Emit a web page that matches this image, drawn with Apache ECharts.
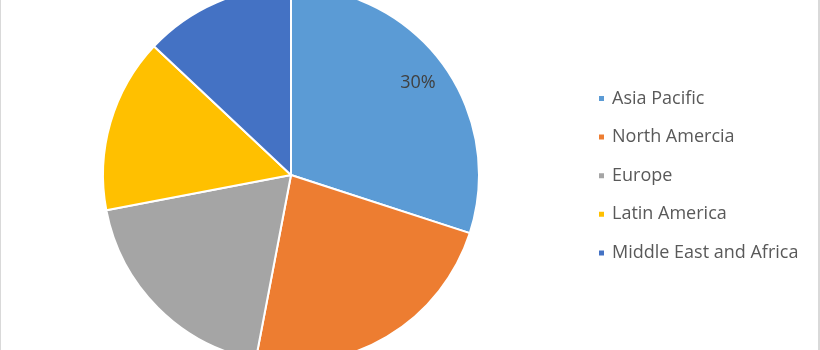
<!DOCTYPE html>
<html>
<head>
<meta charset="utf-8">
<script src="https://cdn.jsdelivr.net/npm/echarts@6/dist/echarts.min.js"></script>
<style>
html,body{margin:0;padding:0;background:#fff;}
#wrap{position:relative;width:820px;height:350px;}
#c{position:absolute;left:0;top:0;width:820px;height:350px;}
#frame{position:absolute;left:0;top:0;width:817px;height:350px;border-left:1px solid #d9d9d9;border-right:2px solid #d9d9d9;pointer-events:none;}
</style>
</head>
<body>
<div id="wrap"><div id="c"></div><div id="frame"></div></div>
<script>
var categories = ['Asia Pacific', 'North Amercia', 'Europe', 'Latin America', 'Middle East and Africa'];
var values = [30, 23, 19, 15, 13];
var colors = ['#5B9BD5', '#ED7D31', '#A5A5A5', '#FFC000', '#4472C4'];
var labelled = [true, false, false, false, false];

var chart = echarts.init(document.getElementById('c'), null, {renderer: 'canvas'});

var mainData = categories.map(function (n, i) {
  return { name: n, value: values[i], itemStyle: { color: colors[i] } };
});
var labelData = categories.map(function (n, i) {
  return { name: n, value: values[i], label: { show: labelled[i] } };
});

chart.setOption({
  animation: false,
  backgroundColor: '#ffffff',
  legend: {
    data: categories,
    orient: 'vertical',
    left: 592,
    top: 82.5,
    padding: 5,
    itemWidth: 7,
    itemHeight: 7,
    itemGap: 16.6,
    icon: 'rect',
    textStyle: { color: '#595959', fontSize: 18, fontFamily: 'Open Sans', lineHeight: 22, padding: [0, 0, 0, 2] },
    selectedMode: false
  },
  series: [
    {
      type: 'pie',
      center: [291, 175],
      radius: [0, 188],
      startAngle: 90,
      clockwise: true,
      silent: true,
      label: { show: false },
      labelLine: { show: false },
      itemStyle: { borderColor: '#ffffff', borderWidth: 2 },
      data: mainData
    },
    {
      type: 'pie',
      center: [291, 175],
      radius: [120, 188],
      startAngle: 90,
      clockwise: true,
      silent: true,
      legendHoverLink: false,
      itemStyle: { color: 'rgba(0,0,0,0)', borderWidth: 0 },
      label: {
        show: false,
        position: 'inside',
        formatter: '{d}%',
        color: '#404040',
        fontSize: 18,
        fontFamily: 'Open Sans'
      },
      labelLine: { show: false },
      data: labelData
    }
  ]
});
</script>
</body>
</html>
